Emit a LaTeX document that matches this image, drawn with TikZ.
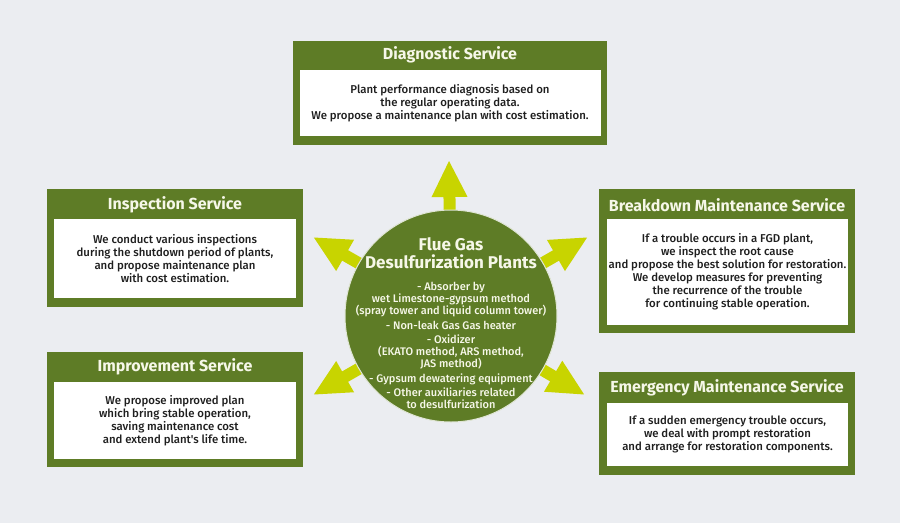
\documentclass[tikz,border=0pt]{standalone}
\usepackage{fontspec}
\setmainfont{Fira Sans}
\newfontfamily\medfont{Fira Sans Medium}
\usetikzlibrary{arrows.meta,positioning}
\definecolor{BoxClr}{RGB}{94,124,38}
\definecolor{ArrowClr}{RGB}{200,212,0}
\definecolor{BackClr}{RGB}{235,237,241}
\definecolor{HeadClr}{RGB}{246,247,232}

\begin{document}
\begin{tikzpicture}[x=1pt,y=-1pt,
  outerbox/.style={fill=BoxClr,inner sep=0pt},
  innerbox/.style={fill=white,inner sep=0pt,align=center,text=black!88,
    font=\medfont\fontsize{11.4}{13}\selectfont},
  headtext/.style={text=HeadClr,inner sep=0pt,
    font=\fontsize{16}{18}\selectfont\bfseries},
  fattip/.style={draw=ArrowClr,line width=12pt,
    -{Triangle[length=37pt,width=33pt]}},
  fgdtitle/.style={text=HeadClr,align=center,inner sep=0pt,
    font=\fontsize{17}{17.5}\selectfont\bfseries},
  fgdlist/.style={text=HeadClr,align=center,inner sep=0pt,
    font=\medfont\fontsize{11}{12}\selectfont}]

% Background, also fixes the size.
\fill[BackClr] (0,0) rectangle (900,523);

% Diagnostic service (top).
\node[outerbox,minimum width=314pt,minimum height=104pt] (diagbox) at (450,93) {};
\node[headtext] (diaghead) at (450,55) {Diagnostic Service};
\node[innerbox,minimum width=301pt,minimum height=66pt] (diagtext) at (450,103)
  {Plant performance diagnosis based on\\the regular operating data.\\We propose a maintenance plan with cost estimation.};

% Inspection and improvement services (left).
\node[outerbox,minimum width=256pt,minimum height=118pt] (inspbox) at (175,248) {};
\node[headtext] (insphead) at (175,205) {Inspection Service};
\node[innerbox,minimum width=242pt,minimum height=79pt] (insptext) at (175,258.5)
  {We conduct various inspections\\during the shutdown period of plants,\\and propose maintenance plan\\with cost estimation.};

\node[outerbox,minimum width=256pt,minimum height=115pt] (imprbox) at (175,409.5) {};
\node[headtext] (imprhead) at (175,367) {Improvement Service};
\node[innerbox,minimum width=242pt,minimum height=77pt] (imprtext) at (175,420.5)
  {We propose improved plan\\which bring stable operation,\\saving maintenance cost\\and extend plant's life time.};

% Breakdown and emergency maintenance (right).
\node[outerbox,minimum width=256pt,minimum height=144pt] (brkbox) at (727,261) {};
\node[headtext] (brkhead) at (727,205) {Breakdown Maintenance Service};
\node[innerbox,minimum width=241pt,minimum height=106pt] (brktext) at (727.5,272)
  {If a trouble occurs in a FGD plant,\\we inspect the root cause\\and propose the best solution for restoration.\\We develop measures for preventing\\the recurrence of the trouble\\for continuing stable operation.};

\node[outerbox,minimum width=256pt,minimum height=103pt] (emgbox) at (727,423.5) {};
\node[headtext] (emghead) at (727,388) {Emergency Maintenance Service};
\node[innerbox,minimum width=241pt,minimum height=63pt] (emgtext) at (727.5,434.5)
  {If a sudden emergency trouble occurs,\\we deal with prompt restoration\\and arrange for restoration components.};

% Arrows out of the plant circle.
\coordinate (hub) at (451,316);
\coordinate (tipN) at (449,160);
\coordinate (tipNW) at (313,237);
\coordinate (tipNE) at (588,237);
\coordinate (tipSW) at (313,395);
\coordinate (tipSE) at (585,395);
\foreach \t in {tipN,tipNW,tipNE,tipSW,tipSE}
  \draw[fattip] (hub) -- (\t);

% The plant circle.
\node[circle,fill=BoxClr,draw=white!80!BoxClr,line width=1pt,
  minimum size=212pt,inner sep=0pt] (fgd) at (hub) {};
\node[fgdtitle] (fgdhead) at (451,253) {Flue Gas\\Desulfurization Plants};
\node[fgdlist,below=13.5pt of fgdhead] (fgditems)
  {- Absorber by\\wet Limestone-gypsum method\\(spray tower and liquid column tower)\\[2.5pt]
   - Non-leak Gas Gas heater\\[2.5pt]
   - Oxidizer\\(EKATO method, ARS method,\\JAS method)\\[2.5pt]
   - Gypsum dewatering equipment\\[2.5pt]
   - Other auxiliaries related\\to desulfurization};

\end{tikzpicture}
\end{document}
